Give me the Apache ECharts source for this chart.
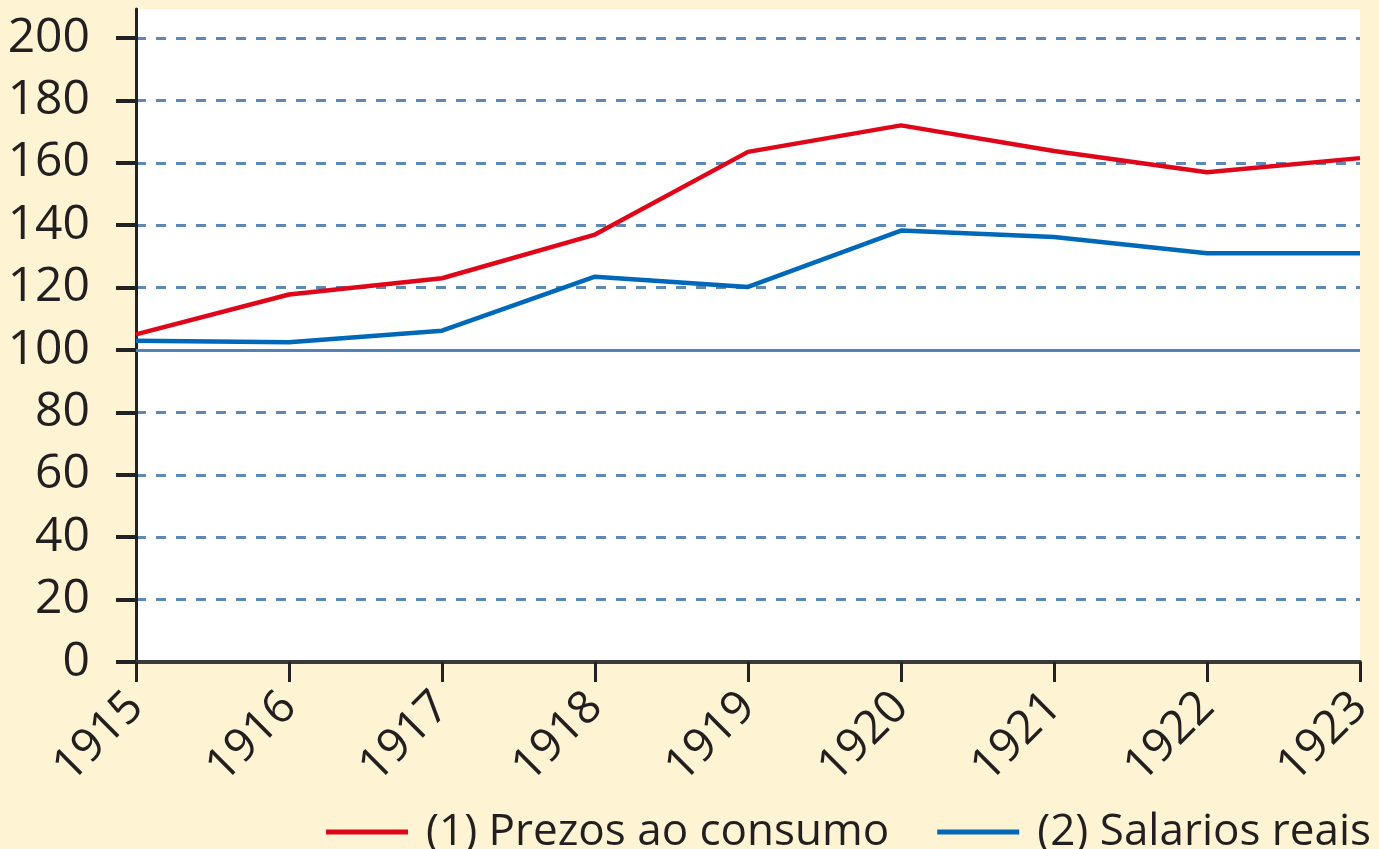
<!DOCTYPE html>
<html lang="pt">
<head>
<meta charset="UTF-8">
<title>Prezos ao consumo e salarios reais 1915-1923</title>
<script src="https://cdn.jsdelivr.net/npm/echarts@6/dist/echarts.min.js"></script>
<style>
  html, body { margin: 0; padding: 0; background: #fef3d2; }
  #chart { width: 1379px; height: 849px; }
</style>
</head>
<body>
<div id="chart"></div>
<script>
// datos
const years = ['1915', '1916', '1917', '1918', '1919', '1920', '1921', '1922', '1923'];
const prezos = [105, 117.8, 123, 137, 163.5, 172, 163.8, 157, 161.5];
const salarios = [103, 102.5, 106.2, 123.5, 120.2, 138.3, 136.2, 131, 131];
const yTicks = [0, 20, 40, 60, 80, 100, 120, 140, 160, 180, 200];
const baseIndex = 100;
const yTop = 209.3; // zona branca por riba do 200

const FONT = '"Open Sans", "Noto Sans", sans-serif';
const TXT = '#231f20';

const chart = echarts.init(document.getElementById('chart'));

const option = {
  animation: false,
  backgroundColor: '#fef3d2',
  grid: {
    left: 136, right: 19, top: 9, bottom: 187,
    show: true, backgroundColor: '#ffffff', borderWidth: 0
  },
  legend: {
    left: 321, top: 805, width: 1200,
    icon: 'rect', itemWidth: 82, itemHeight: 5, itemGap: 48,
    textStyle: {
      fontFamily: FONT, fontSize: 44, lineHeight: 44, color: TXT,
      padding: [0, 0, 0, 13]
    }
  },
  xAxis: {
    type: 'category',
    data: years,
    boundaryGap: false,
    axisLine: { lineStyle: { color: '#3a3a3a', width: 4 } },
    axisTick: { length: 20, alignWithLabel: true, lineStyle: { color: '#222', width: 3 } },
    axisLabel: {
      rotate: 45, margin: 38, fontFamily: FONT, fontSize: 46, color: TXT,
      padding: [30, 0, 0, 0], interval: 0
    },
    splitLine: { show: false }
  },
  yAxis: {
    type: 'value',
    min: 0, max: yTop, interval: 20,
    axisLine: { show: true, lineStyle: { color: '#222', width: 3 } },
    axisTick: { show: true, length: 20, customValues: yTicks, lineStyle: { color: '#222', width: 4 } },
    axisLabel: {
      customValues: yTicks, margin: 46,
      fontFamily: FONT, fontSize: 48, color: TXT
    },
    splitLine: {
      show: true, showMinLine: false, showMaxLine: true,
      lineStyle: { color: '#5d89b9', width: 3, type: [10, 10] }
    }
  },
  series: [
    {
      name: '(1) Prezos ao consumo',
      type: 'line',
      data: prezos,
      symbol: 'none',
      color: '#e0061a',
      lineStyle: { width: 4.5, color: '#e0061a' },
      z: 4
    },
    {
      name: '(2) Salarios reais',
      type: 'line',
      data: salarios,
      symbol: 'none',
      color: '#0068b8',
      lineStyle: { width: 4.5, color: '#0068b8' },
      z: 3,
      markLine: {
        silent: true,
        symbol: 'none',
        label: { show: false },
        lineStyle: { type: 'solid', color: '#5581b4', width: 3 },
        data: [{ yAxis: baseIndex }],
        z: 2
      }
    }
  ]
};

chart.setOption(option);
window.addEventListener('resize', function () { chart.resize(); });
</script>
</body>
</html>
